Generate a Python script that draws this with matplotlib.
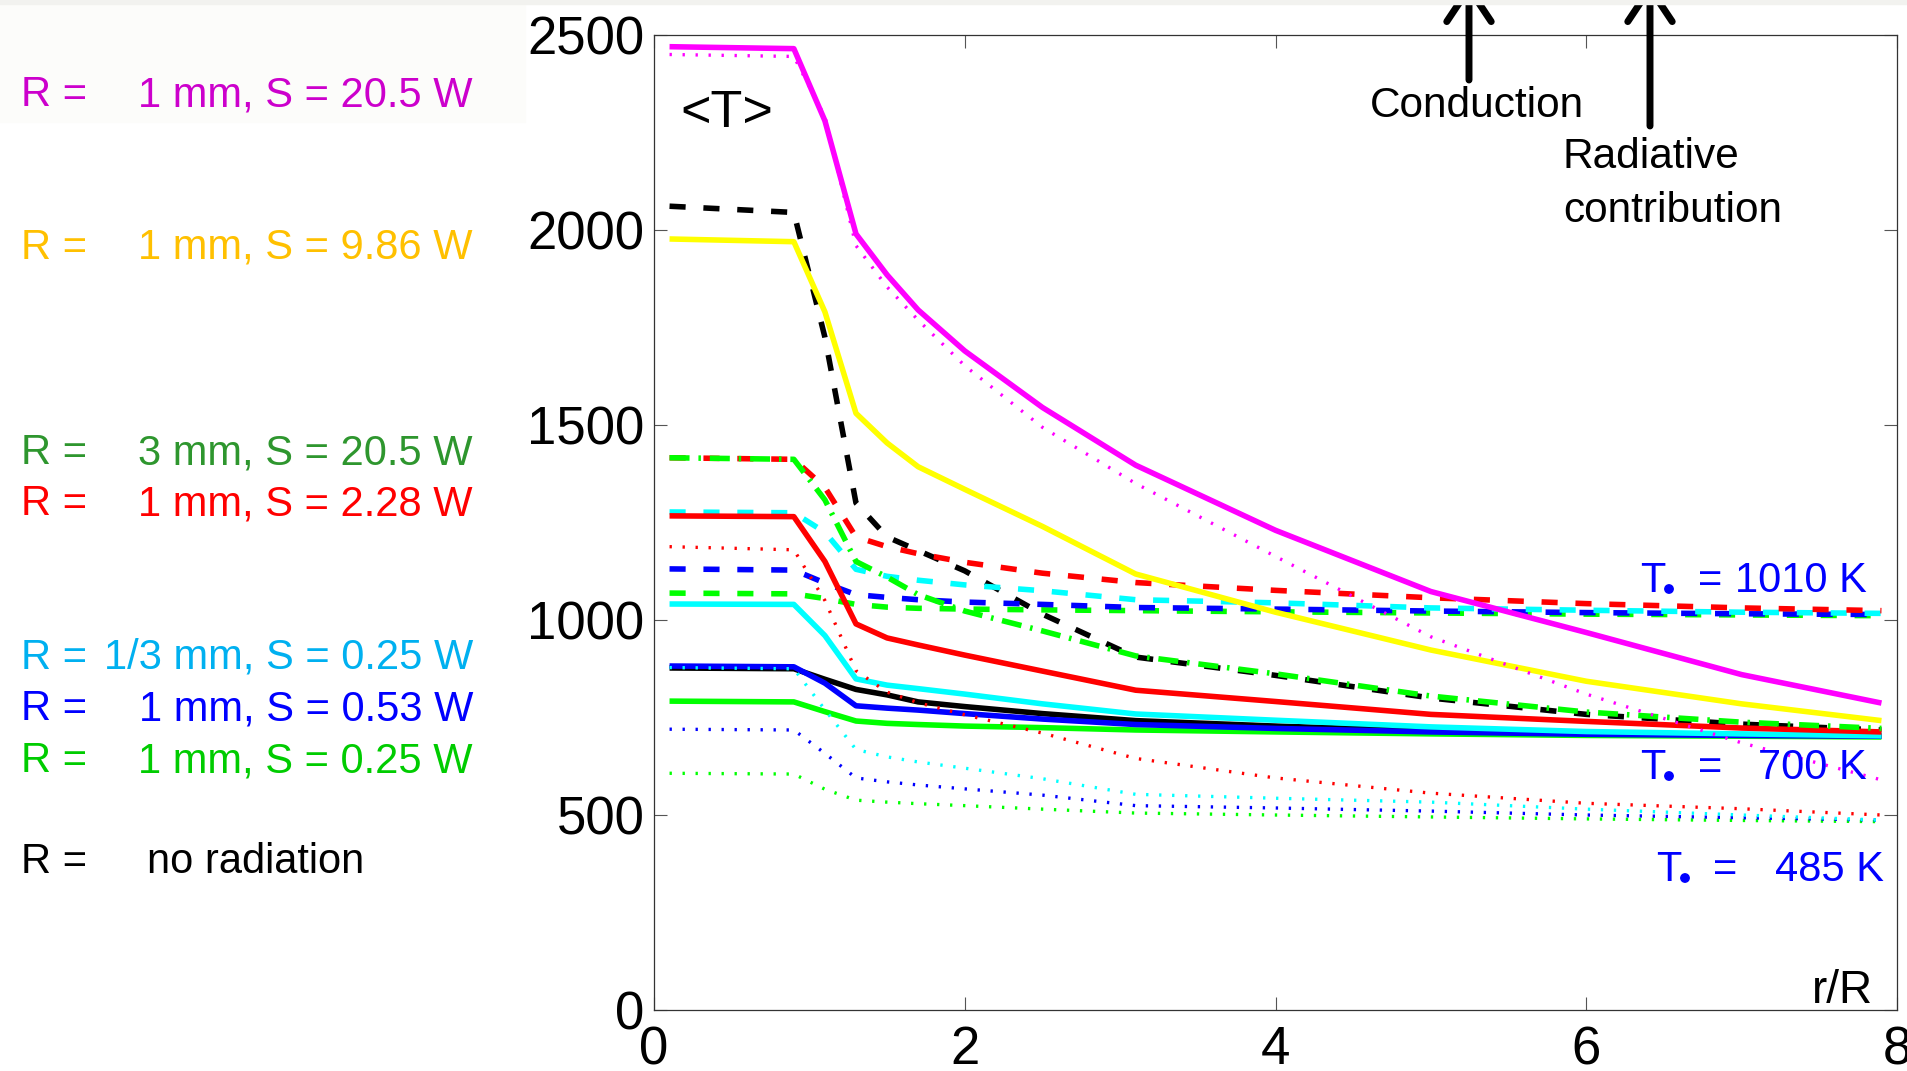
import matplotlib
matplotlib.use('Agg')
import matplotlib.pyplot as plt
from matplotlib.patches import Rectangle, Circle
from matplotlib.transforms import IdentityTransform

plt.rcParams['font.family'] = ['Liberation Sans', 'DejaVu Sans']

W, H = 1907, 1071

# radial positions r/R where the profiles are sampled
x = [0.1, 0.9, 1.1, 1.3, 1.5, 1.7, 2.0, 2.5, 3.1, 4.0, 5.0, 6.0, 7.0, 7.9]

# <T> profiles (K)
mag_solid = [2470, 2465, 2280, 1990, 1885, 1795, 1690, 1545, 1397, 1230, 1073, 968, 860, 787]
mag_dot = [2450, 2445, 2290, 1960, 1854, 1769, 1652, 1494, 1350, 1163, 957, 810, 685, 590]
yel_solid = [1977, 1970, 1790, 1530, 1454, 1393, 1335, 1240, 1118, 1020, 923, 843, 785, 742]
blk_dash = [2061, 2045, 1725, 1300, 1213, 1178, 1126, 1015, 905, 858, 800, 758, 733, 718]
blk_solid = [877, 875, 848, 822, 808, 790, 778, 760, 742, 728, 716, 710, 706, 703]
grn3_dashdot = [1416, 1412, 1308, 1150, 1110, 1065, 1023, 972, 908, 862, 805, 764, 738, 722]
red_dash = [1416, 1412, 1340, 1213, 1188, 1170, 1148, 1120, 1096, 1076, 1057, 1042, 1031, 1024]
red_solid = [1267, 1265, 1150, 990, 954, 936, 910, 869, 820, 791, 758, 740, 723, 713]
red_dot = [1188, 1180, 1050, 870, 815, 788, 757, 710, 645, 595, 556, 530, 516, 500]
cyn_dash = [1277, 1275, 1225, 1130, 1112, 1102, 1090, 1075, 1052, 1044, 1031, 1025, 1020, 1017]
cyn_solid = [1041, 1040, 960, 849, 833, 824, 810, 785, 759, 743, 726, 714, 708, 703]
cyn_dot = [878, 875, 770, 668, 649, 636, 620, 593, 553, 543, 533, 515, 500, 487]
blu_dash = [1131, 1128, 1095, 1065, 1058, 1052, 1046, 1040, 1032, 1028, 1023, 1019, 1016, 1014]
blu_solid = [882, 880, 838, 780, 774, 769, 760, 746, 732, 722, 713, 707, 704, 702]
blu_dot = [720, 718, 658, 595, 585, 577, 567, 551, 524, 518, 510, 500, 493, 487]
grn_dash = [1069, 1067, 1055, 1040, 1033, 1030, 1028, 1026, 1024, 1021, 1018, 1015, 1013, 1011]
grn_solid = [792, 790, 765, 741, 735, 732, 728, 724, 718, 713, 708, 704, 702, 700]
grn_dot = [607, 605, 566, 538, 533, 529, 524, 515, 505, 500, 495, 490, 486, 483]

legend_labels = ['1 mm, S = 20.5 W', '1 mm, S = 9.86 W', '3 mm, S = 20.5 W', '1 mm, S = 2.28 W',
                 '1/3 mm, S = 0.25 W', '1 mm, S = 0.53 W', '1 mm, S = 0.25 W', 'no radiation']
legend_colors = ['#cc00cc', '#ffc000', '#2e962e', '#ff0000', '#00b0f0', '#0000ff', '#00cc00', '#000000']
legend_base = [106, 259, 464, 515, 669, 720, 772, 873]

t_inf_values = ['1010 K', '700 K', '485 K']
# (T left, "=" left, value right, baseline) in pixels from the top-left corner
t_inf_layout = [(1640, 1698, 1867, 592), (1640, 1698, 1867, 779), (1656, 1713, 1884, 881)]

SOLID = dict(ls='-', lw=4)
DASH = dict(ls=(0, (2.9, 3.2)), lw=4)
DASHDOT = dict(ls=(0, (3.6, 1.6, 0.45, 1.6)), lw=4)
DOT = dict(ls=(0, (0.7, 3.2)), lw=2.4)

# drawn case by case so overlapping curves stack the same way
curves = [
    (blk_solid, 'k', SOLID), (blk_dash, 'k', DASH),
    (grn_dot, '#00ff00', DOT), (grn_solid, '#00ff00', SOLID), (grn_dash, '#00ff00', DASH),
    (blu_dot, '#0000ff', DOT), (blu_solid, '#0000ff', SOLID), (blu_dash, '#0000ff', DASH),
    (cyn_dot, '#00ffff', DOT), (cyn_solid, '#00ffff', SOLID), (cyn_dash, '#00ffff', DASH),
    (red_dot, '#ff0000', DOT), (red_solid, '#ff0000', SOLID), (red_dash, '#ff0000', DASH),
    (grn3_dashdot, '#00ff00', DASHDOT),
    (yel_solid, '#ffff00', SOLID),
    (mag_dot, '#ff00ff', DOT), (mag_solid, '#ff00ff', SOLID),
]

fig = plt.figure(figsize=(W / 100, H / 100), dpi=100)
fig.patches.append(Rectangle((0, 1 - 122 / H), 525 / W, 122 / H, transform=fig.transFigure,
                             color='#fcfcfa', zorder=0))
fig.patches.append(Rectangle((0, 1 - 4 / H), 1, 4 / H, transform=fig.transFigure,
                             color='#f2f2ef', zorder=0))

ax = fig.add_axes([654 / W, 61 / H, 1243 / W, 975 / H])
for y, c, st in curves:
    ax.plot(x, y, color=c, solid_capstyle='butt', dash_capstyle='butt', **st)

ax.set_xlim(0, 8)
ax.set_ylim(0, 2500)
ax.set_xticks([0, 2, 4, 6, 8])
ax.set_yticks([0, 500, 1000, 1500, 2000, 2500])
ax.tick_params(direction='in', length=9.5, width=0.8, color='#555555', labelsize=38,
               top=True, right=True, pad=7)
ax.tick_params(axis='x', pad=11)
for s in ax.spines.values():
    s.set_linewidth(0.9)
    s.set_color('#333333')


def fxy(px, py):
    return px / W, 1 - py / H


# ambient temperature labels on the right
for val, (tl, el, vr, yb) in zip(t_inf_values, t_inf_layout):
    fig.text(*fxy(tl, yb), 'T', color='#0000ff', fontsize=30, va='baseline')
    fig.patches.append(Circle((tl + 29, H - yb + 3), 4.2, transform=IdentityTransform(),
                              color='#0000ff'))
    fig.text(*fxy(el, yb), '=', color='#0000ff', fontsize=30, va='baseline')
    fig.text(*fxy(vr, yb), val, color='#0000ff', fontsize=30, va='baseline', ha='right')

# left-hand key
for lab, col, yb in zip(legend_labels, legend_colors, legend_base):
    fig.text(*fxy(21, yb), 'R =', color=col, fontsize=30, va='baseline')
    if lab == 'no radiation':
        fig.text(*fxy(147, yb), lab, color=col, fontsize=30, va='baseline')
    else:
        fig.text(*fxy(473, yb), lab, color=col, fontsize=30, va='baseline', ha='right')

fig.text(*fxy(680, 127), '<T>', fontsize=37.5, va='baseline')
fig.text(*fxy(1873, 1003), 'r/R', fontsize=33, va='baseline', ha='right')
fig.text(*fxy(1370, 117), 'Conduction', fontsize=30.5, va='baseline')
fig.text(*fxy(1563, 168), 'Radiative', fontsize=30.5, va='baseline')
fig.text(*fxy(1563, 222), 'contribution', fontsize=30.5, va='baseline')

# arrows pointing up out of the frame
for ax_x, y0 in [(1469, 80), (1650, 126)]:
    ax.annotate('', xy=(ax_x, H + 18), xytext=(ax_x, H - y0), xycoords='figure pixels',
                textcoords='figure pixels', annotation_clip=False,
                arrowprops=dict(arrowstyle='->,head_length=2.4,head_width=1.6',
                                lw=5, color='k', mutation_scale=10, shrinkA=0, shrinkB=0))

fig.savefig('out.png', dpi=100)
